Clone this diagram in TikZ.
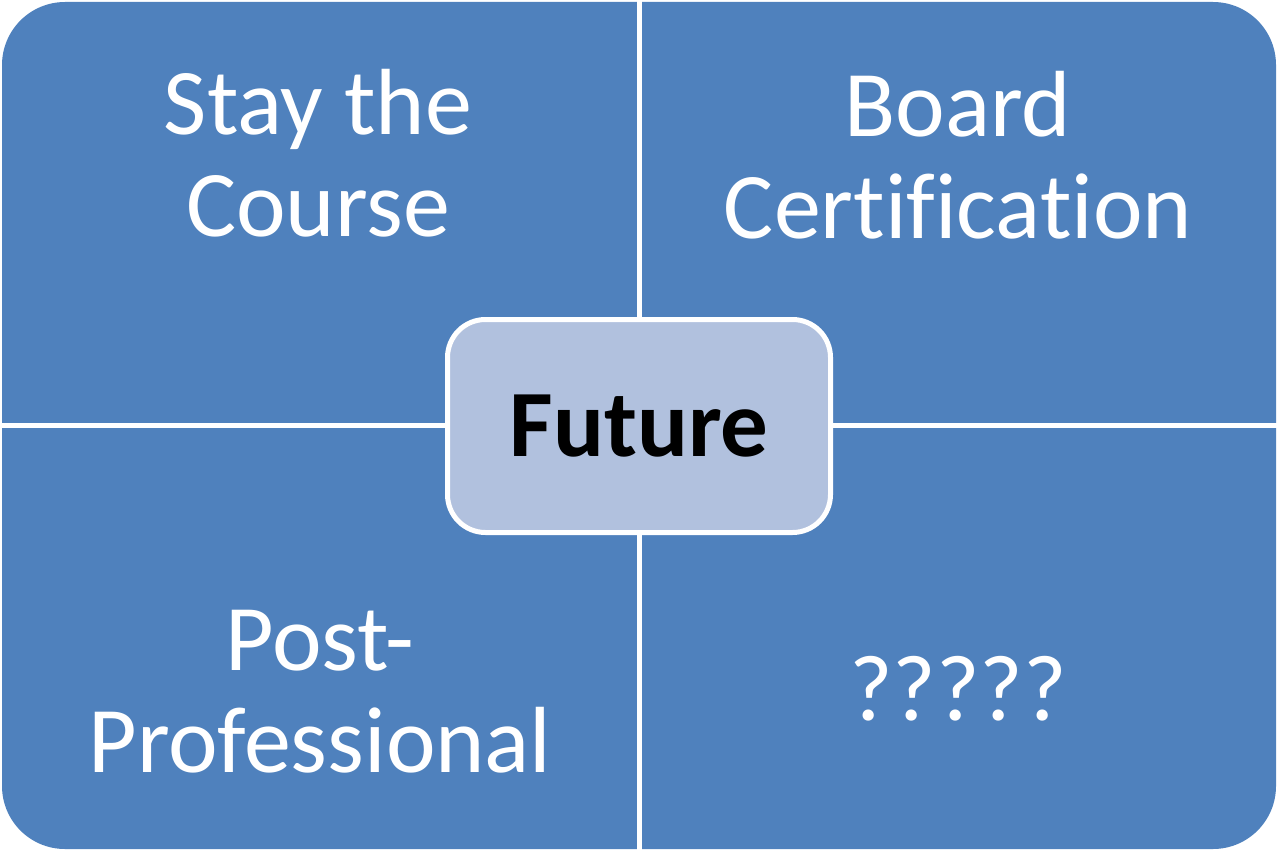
\documentclass[tikz,border=0pt]{standalone}
\usepackage{fontspec}
\setmainfont{Carlito}[Ligatures={NoCommon,NoRequired,NoContextual}]
\definecolor{quadblue}{HTML}{4F81BD}
\definecolor{centerfill}{HTML}{B1C1DE}
\begin{document}
\begin{tikzpicture}[x=1pt,y=-1pt,
  quadtext/.style={text=white,font=\fontsize{94}{102}\selectfont,align=center,inner sep=0pt,anchor=base},
  centerbox/.style={draw=white,line width=5pt,fill=centerfill,rounded corners=38pt,minimum width=383pt,minimum height=213pt,inner sep=0pt,font=\fontsize{95}{102}\selectfont\bfseries,text=black},
  divider/.style={draw=white,line width=5pt}]
\useasboundingbox (0,0) rectangle (1277,851);
\fill[quadblue,rounded corners=63pt] (2,2) rectangle (1276,849);
\coordinate (vt) at (639,0);
\coordinate (vb) at (639,851);
\coordinate (hl) at (0,425.5);
\coordinate (hr) at (1277,425.5);
\draw[divider] (vt) -- (vb);
\draw[divider] (hl) -- (hr);
\node[centerbox] (future) at (639,426) {Future};
\node[quadtext] (tl) at (318,236) {Stay the\\Course};
\node[quadtext] (tr) at (958,238) {Board\\Certification};
\node[quadtext] (bl) at (320,772) {Post-\\Professional};
\node[quadtext] (br) at (958,720) {?????};
\end{tikzpicture}
\end{document}
